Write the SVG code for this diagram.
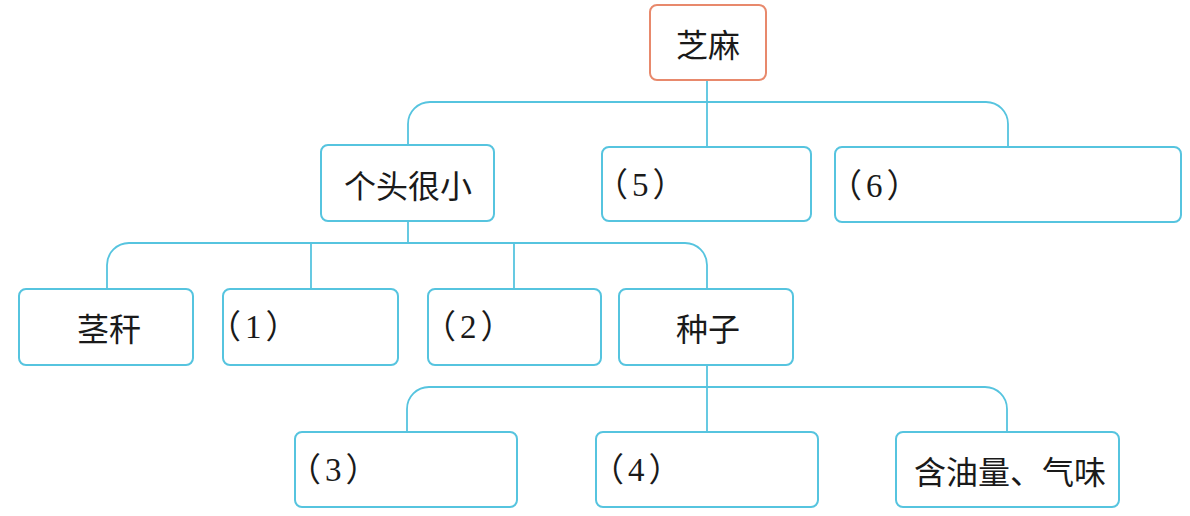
<svg xmlns="http://www.w3.org/2000/svg" width="1190" height="516" viewBox="0 0 1190 516">
<style>
.box{fill:#fff;stroke:#56c4df;stroke-width:2}
.root{fill:#fff;stroke:#e8896c;stroke-width:2}
.t{font-family:"Noto Sans CJK SC","Noto Sans CJK JP",sans-serif;font-size:32px;fill:#1a1a1a;dominant-baseline:central}
.n{font-family:"Liberation Serif","Noto Sans CJK SC",serif;font-size:33px;fill:#1a1a1a;dominant-baseline:central;letter-spacing:4px}
.c{fill:none;stroke:#56c4df;stroke-width:1.8}
</style>
<rect width="1190" height="516" fill="#fff"/>
<g id="connectors">
<path class="c" d="M707,80 V147"/>
<path class="c" d="M408,145 V124 A22,22 0 0 1 430,102 H986 A22,22 0 0 1 1008,124 V147"/>
<path class="c" d="M408,221 V243"/>
<path class="c" d="M107,289 V265 A22,22 0 0 1 129,243 H685 A22,22 0 0 1 707,265 V289"/>
<path class="c" d="M311,243 V289"/>
<path class="c" d="M514,243 V289"/>
<path class="c" d="M707,365 V432"/>
<path class="c" d="M407,432 V409 A22,22 0 0 1 429,387 H985 A22,22 0 0 1 1007,409 V432"/>
</g>
<g id="n-zhima"><rect class="root" x="650" y="5" width="116" height="75" rx="7"/><text class="t" x="708" y="43" text-anchor="middle">芝麻</text></g>
<g id="n-getou"><rect class="box" x="321" y="145" width="173" height="76" rx="7"/><text class="t" x="408" y="184" text-anchor="middle">个头很小</text></g>
<g id="n-5"><rect class="box" x="602" y="147" width="209" height="74" rx="7"/><text class="n" x="595" y="185">（5）</text></g>
<g id="n-6"><rect class="box" x="835" y="147" width="346" height="75" rx="7"/><text class="n" x="829" y="186">（6）</text></g>
<g id="n-jinggan"><rect class="box" x="19" y="289" width="174" height="76" rx="7"/><text class="t" x="109" y="327" text-anchor="middle">茎秆</text></g>
<g id="n-1"><rect class="box" x="223" y="289" width="175" height="76" rx="7"/><text class="n" x="208" y="327">（1）</text></g>
<g id="n-2"><rect class="box" x="428" y="289" width="173" height="76" rx="7"/><text class="n" x="423" y="327">（2）</text></g>
<g id="n-zhongzi"><rect class="box" x="619" y="289" width="174" height="76" rx="7"/><text class="t" x="708" y="327" text-anchor="middle">种子</text></g>
<g id="n-3"><rect class="box" x="295" y="432" width="222" height="75" rx="7"/><text class="n" x="288" y="470">（3）</text></g>
<g id="n-4"><rect class="box" x="596" y="432" width="222" height="75" rx="7"/><text class="n" x="591" y="470">（4）</text></g>
<g id="n-hanyou"><rect class="box" x="896" y="432" width="223" height="75" rx="7"/><text class="t" x="1010" y="470" text-anchor="middle">含油量、气味</text></g>
</svg>
